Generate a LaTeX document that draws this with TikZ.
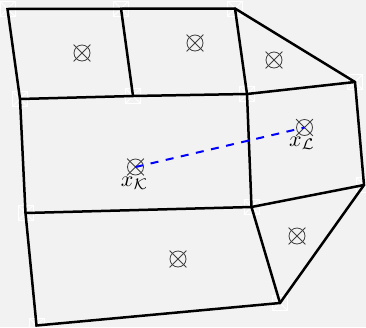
\documentclass[tikz,border=0pt]{standalone}
\usetikzlibrary{shapes.misc}
\definecolor{bg}{HTML}{F2F2F2}
\definecolor{mk}{HTML}{404040}
\begin{document}
\begin{tikzpicture}[x=1pt,y=-1pt,
  edge/.style={line width=2.5pt,line join=miter,line cap=round},
  cell/.style={circle,cross out,draw=mk,line width=0.8pt,minimum size=16pt,inner sep=0pt},
  ring/.style={circle,draw=mk,line width=0.8pt,minimum size=16pt,inner sep=0pt},
  vmark/.style={rectangle,draw=white,line width=0.8pt,minimum size=15pt,inner sep=0pt,
    path picture={\draw[white,line width=0.8pt] (path picture bounding box.south west) -- (path picture bounding box.north east) (path picture bounding box.north west) -- (path picture bounding box.south east);}},
  lbl/.style={inner sep=0pt,scale=2.2}]
\fill[bg] (0,0) rectangle (366,327);
\useasboundingbox (0,0) rectangle (366,327);
% vertices
\coordinate (A) at (7.5,9);
\coordinate (B) at (121,8.5);
\coordinate (C) at (235,8.5);
\coordinate (D) at (355,82);
\coordinate (E) at (364,185);
\coordinate (F) at (280,303);
\coordinate (G) at (36.5,325.5);
\coordinate (H) at (20,99);
\coordinate (I) at (25.5,213);
\coordinate (J) at (133,96);
\coordinate (K) at (247,94);
\coordinate (L) at (251.5,207);
% vertex markers
\foreach \v in {A,B,C,D,E,F,G,H,I,J,K,L} \node[vmark] at (\v) {};
% edges
\draw[edge] (A) -- (C) -- (D) -- (E) -- (F) -- (G) -- (I) -- (H) -- cycle;
\draw[edge] (H) -- (J) -- (K) -- (D);
\draw[edge] (B) -- (J);
\draw[edge] (C) -- (K) -- (L) -- (F);
\draw[edge] (I) -- (L) -- (E);
% cell centres
\node[cell] (c1) at (82,53) {};
\node[cell] (c2) at (195,43) {};
\node[cell] (c3) at (274,60) {};
\node[cell] (cL) at (304.5,127.5) {};
\node[cell] (cK) at (135.5,167) {};
\node[cell] (c5) at (178,259) {};
\node[cell] (c6) at (297,236) {};
\foreach \c in {c1,c2,c3,cL,cK,c5,c6} \node[ring] at (\c) {};
\draw[blue,line width=2pt,dash pattern=on 8pt off 7.5pt] (cK.center) -- (cL.center);
\node[lbl] (tK) at (134.5,183) {$x_{\mathcal{K}}$};
\node[lbl] (tL) at (302,143) {$x_{\mathcal{L}}$};
\end{tikzpicture}
\end{document}
